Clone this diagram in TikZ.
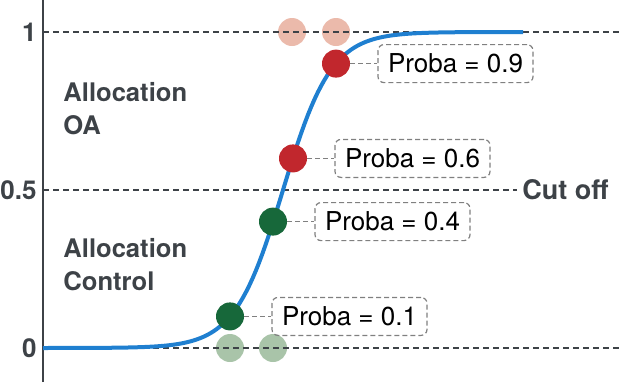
\documentclass[tikz,border=0pt]{standalone}
\usepackage{fontspec}
\setmainfont{TeX Gyre Heros}
\usetikzlibrary{positioning}
\definecolor{inkgray}{HTML}{3D4247}
\definecolor{curveblue}{HTML}{1F7FD0}
\definecolor{oared}{HTML}{C1272D}
\definecolor{oapale}{HTML}{EBBAAB}
\definecolor{ctlgreen}{HTML}{17683A}
\definecolor{ctlpale}{HTML}{A9C4A9}

\begin{document}
\begin{tikzpicture}[
  x=0.5pt, y=0.5pt,
  font=\fontsize{13}{15}\selectfont,
  dot/.style={
    circle,
    minimum size=14pt,
    inner sep=0pt
  },
  oadot/.style={dot, fill=oared},
  oafaded/.style={dot, fill=oapale},
  ctldot/.style={dot, fill=ctlgreen},
  ctlfaded/.style={dot, fill=ctlpale},
  probabox/.style={
    draw=black!50,
    dash pattern=on 2.5pt off 1.5pt,
    rounded corners=3pt,
    line width=.6pt,
    inner xsep=5pt,
    minimum height=19pt,
    text=black
  },
  link/.style={draw=black!50, line width=.6pt, dash pattern=on 2.5pt off 1.5pt},
  level/.style={draw=inkgray, line width=.6pt, dash pattern=on 3pt off 2pt},
  cutline/.style={draw=inkgray, line width=1.1pt, dash pattern=on 3pt off 2pt},
  sigmoid/.style={draw=curveblue, line width=2pt},
  ticklabel/.style={font=\fontsize{13}{15}\selectfont\bfseries, text=inkgray, inner sep=0pt},
  zone/.style={font=\fontsize{12.8}{16.5}\selectfont\bfseries, text=inkgray, align=left, inner sep=0pt},
  node distance=13.5pt
]
\useasboundingbox (0,0) rectangle (620,382);

% faded end states
\node[oafaded] (f6) at (292,350) {};
\node[oafaded] (f9) at (336,350) {};
\node[ctlfaded] (g1) at (230,34) {};
\node[ctlfaded] (g4) at (273,34) {};

% axis and levels
\draw[inkgray, line width=1pt] (43,0) -- (43,382);
\draw[level] (43,350) -- (620,350);
\draw[level] (43,34) -- (620,34);
\draw[cutline] (43,192) -- (517,192);

\node[ticklabel, anchor=east] (one) at (37,350) {1};
\node[ticklabel, anchor=east] (half) at (37,192) {0.5};
\node[ticklabel, anchor=east] (zero) at (37,34) {0};
\node[ticklabel, font=\fontsize{13.5}{15}\selectfont\bfseries, anchor=base west] (cutoff) at (522,183) {Cut off};

\node[zone, anchor=base west] (alloc-oa) at (63,248) {Allocation\\OA};
\node[zone, anchor=base west] (alloc-ctl) at (63,92) {Allocation\\Control};

\draw[sigmoid] (43,34) -- plot[domain=70:523, samples=140]
  (\x, {34+316/(1+exp(-0.0415*(\x-283)))});

% patients on the curve
\node[oadot] (p9) at (336,318.4) {};
\node[oadot] (p6) at (293,223.6) {};
\node[ctldot] (p4) at (273,160.4) {};
\node[ctldot] (p1) at (230,65.6) {};

\node[probabox, right=of p9] (b9) {Proba = 0.9};
\node[probabox, right=of p6] (b6) {Proba = 0.6};
\node[probabox, right=of p4] (b4) {Proba = 0.4};
\node[probabox, right=of p1] (b1) {Proba = 0.1};

\draw[link] (p9) -- (b9);
\draw[link] (p6) -- (b6);
\draw[link] (p4) -- (b4);
\draw[link] (p1) -- (b1);
\end{tikzpicture}
\end{document}
